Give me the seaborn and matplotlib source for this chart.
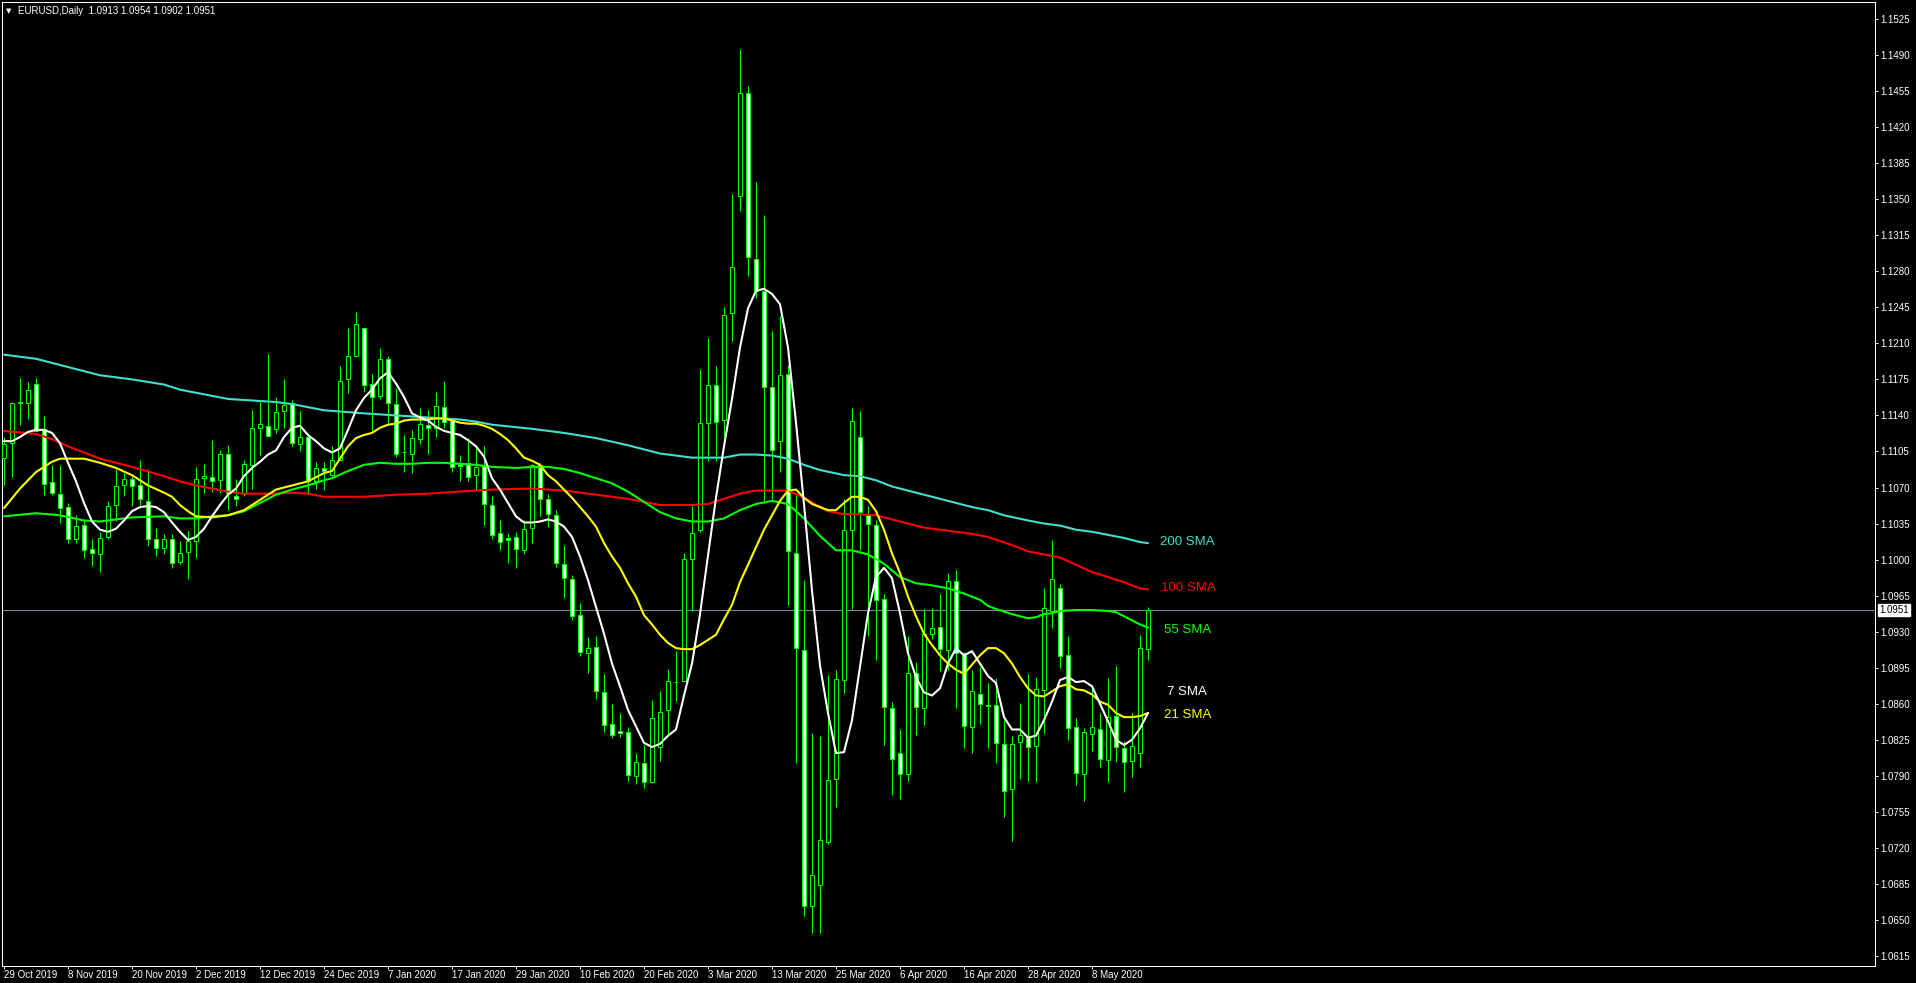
import numpy as np
import pandas as pd
import matplotlib
matplotlib.use('Agg')
import matplotlib.pyplot as plt
import seaborn as sns

# daily EURUSD candles, 29 Oct 2019 .. 19 May 2020 (one row per trading day)
opens = [1.1099, 1.1113, 1.1152, 1.1152, 1.1171, 1.1127, 1.1075, 1.1064, 1.1051, 1.1020,
         1.1034, 1.1010, 1.1005, 1.1022, 1.1053, 1.1072, 1.1078, 1.1072, 1.1057, 1.1020,
         1.1011, 1.1020, 1.0998, 1.1007, 1.1018, 1.1079, 1.1080, 1.1077, 1.1103, 1.1062,
         1.1064, 1.1092, 1.1128, 1.1130, 1.1127, 1.1144, 1.1152, 1.1112, 1.1119, 1.1076,
         1.1089, 1.1082, 1.1097, 1.1175, 1.1198, 1.1225, 1.1171, 1.1159, 1.1195, 1.1151,
         1.1104, 1.1103, 1.1117, 1.1131, 1.1128, 1.1148, 1.1135, 1.1093, 1.1094, 1.1082,
         1.1092, 1.1053, 1.1026, 1.1021, 1.1022, 1.1009, 1.1031, 1.1092, 1.1059, 1.1043,
         1.0996, 1.0981, 1.0946, 1.0909, 1.0915, 1.0871, 1.0840, 1.0834, 1.0833, 1.0790,
         1.0802, 1.0784, 1.0818, 1.0854, 1.0881, 1.0882, 1.1001, 1.1029, 1.1133, 1.1170,
         1.1136, 1.1239, 1.1353, 1.1453, 1.1292, 1.1261, 1.1168, 1.1115, 1.1180, 1.1006,
         1.0912, 1.0664, 1.0684, 1.0726, 1.0787, 1.0883, 1.1029, 1.1119, 1.1043, 1.1034,
         1.0962, 1.0856, 1.0812, 1.0792, 1.0890, 1.0856, 1.0928, 1.0935, 1.0912, 1.0979,
         1.0909, 1.0837, 1.0869, 1.0859, 1.0859, 1.0821, 1.0777, 1.0823, 1.0827, 1.0819,
         1.0873, 1.0950, 1.0972, 1.0907, 1.0837, 1.0792, 1.0831, 1.0835, 1.0805, 1.0848,
         1.0817, 1.0804, 1.0812, 1.0913]
highs = [1.1119, 1.1153, 1.1176, 1.1172, 1.1176, 1.1139, 1.1092, 1.1092, 1.1055, 1.1043,
         1.1038, 1.1020, 1.1027, 1.1057, 1.1090, 1.1084, 1.1081, 1.1097, 1.1088, 1.1031,
         1.1025, 1.1025, 1.1018, 1.1028, 1.1090, 1.1093, 1.1116, 1.1106, 1.1111, 1.1078,
         1.1097, 1.1145, 1.1153, 1.1200, 1.1158, 1.1175, 1.1155, 1.1144, 1.1123, 1.1095,
         1.1095, 1.1110, 1.1188, 1.1225, 1.1240, 1.1225, 1.1180, 1.1205, 1.1198, 1.1167,
         1.1121, 1.1126, 1.1147, 1.1145, 1.1163, 1.1173, 1.1137, 1.1102, 1.1118, 1.1110,
         1.1110, 1.1062, 1.1038, 1.1026, 1.1027, 1.1038, 1.1093, 1.1094, 1.1064, 1.1048,
         1.1014, 1.0985, 1.0958, 1.0925, 1.0926, 1.0889, 1.0860, 1.0851, 1.0837, 1.0812,
         1.0820, 1.0864, 1.0872, 1.0894, 1.0911, 1.1006, 1.1052, 1.1185, 1.1215, 1.1188,
         1.1245, 1.1355, 1.1496, 1.1460, 1.1367, 1.1335, 1.1222, 1.1237, 1.1189, 1.1063,
         1.0980, 1.0832, 1.0829, 1.0888, 1.0893, 1.1059, 1.1147, 1.1144, 1.1052, 1.1038,
         1.0967, 1.0862, 1.0835, 1.0926, 1.0901, 1.0952, 1.0953, 1.0967, 1.0987, 1.0990,
         1.0910, 1.0893, 1.0896, 1.0880, 1.0885, 1.0844, 1.0829, 1.0861, 1.0889, 1.0886,
         1.0972, 1.1019, 1.0976, 1.0926, 1.0846, 1.0836, 1.0875, 1.0851, 1.0885, 1.0897,
         1.0824, 1.0851, 1.0927, 1.0954]
lows = [1.1072, 1.1080, 1.1131, 1.1137, 1.1125, 1.1063, 1.1063, 1.1036, 1.1016, 1.1016,
        1.1002, 1.0994, 1.0988, 1.1020, 1.1037, 1.1062, 1.1052, 1.1050, 1.1013, 1.1003,
        1.1005, 1.0992, 1.0996, 1.0981, 1.1002, 1.1065, 1.1066, 1.1065, 1.1048, 1.1052,
        1.1062, 1.1069, 1.1102, 1.1119, 1.1123, 1.1128, 1.1110, 1.1105, 1.1065, 1.1069,
        1.1068, 1.1081, 1.1097, 1.1162, 1.1197, 1.1163, 1.1124, 1.1156, 1.1132, 1.1100,
        1.1085, 1.1084, 1.1112, 1.1103, 1.1119, 1.1128, 1.1085, 1.1076, 1.1076, 1.1068,
        1.1034, 1.1020, 1.1009, 1.0997, 1.0992, 1.1005, 1.1016, 1.1042, 1.1032, 1.0993,
        1.0963, 1.0941, 1.0906, 1.0890, 1.0865, 1.0833, 1.0827, 1.0828, 1.0785, 1.0782,
        1.0778, 1.0783, 1.0804, 1.0829, 1.0863, 1.0881, 1.0950, 1.1027, 1.1096, 1.1096,
        1.1119, 1.1212, 1.1339, 1.1275, 1.1254, 1.1055, 1.1057, 1.1085, 1.0956, 1.0802,
        1.0654, 1.0637, 1.0637, 1.0724, 1.0760, 1.0870, 1.0952, 1.1009, 1.0926, 1.0902,
        1.0820, 1.0771, 1.0767, 1.0785, 1.0830, 1.0839, 1.0923, 1.0892, 1.0893, 1.0856,
        1.0817, 1.0812, 1.0840, 1.0817, 1.0802, 1.0750, 1.0727, 1.0787, 1.0785, 1.0784,
        1.0832, 1.0934, 1.0895, 1.0825, 1.0781, 1.0766, 1.0814, 1.0799, 1.0784, 1.0803,
        1.0774, 1.0789, 1.0799, 1.0902]
closes = [1.1112, 1.1152, 1.1153, 1.1165, 1.1125, 1.1073, 1.1065, 1.1050, 1.1020, 1.1033,
          1.1009, 1.1006, 1.1021, 1.1052, 1.1071, 1.1078, 1.1071, 1.1059, 1.1020, 1.1011,
          1.1020, 1.0997, 1.1006, 1.1018, 1.1078, 1.1081, 1.1076, 1.1103, 1.1065, 1.1059,
          1.1093, 1.1128, 1.1132, 1.1120, 1.1143, 1.1150, 1.1113, 1.1119, 1.1076, 1.1089,
          1.1086, 1.1097, 1.1173, 1.1198, 1.1229, 1.1170, 1.1158, 1.1195, 1.1152, 1.1103,
          1.1104, 1.1118, 1.1132, 1.1128, 1.1149, 1.1134, 1.1090, 1.1091, 1.1080, 1.1090,
          1.1054, 1.1024, 1.1017, 1.1019, 1.1010, 1.1030, 1.1092, 1.1059, 1.1044, 1.0997,
          1.0982, 1.0945, 1.0910, 1.0914, 1.0872, 1.0839, 1.0830, 1.0832, 1.0791, 1.0803,
          1.0784, 1.0846, 1.0852, 1.0882, 1.0881, 1.1001, 1.1026, 1.1133, 1.1170, 1.1134,
          1.1238, 1.1284, 1.1453, 1.1294, 1.1261, 1.1168, 1.1106, 1.1179, 1.1008, 1.0914,
          1.0664, 1.0694, 1.0728, 1.0786, 1.0884, 1.1029, 1.1135, 1.1046, 1.1035, 1.0961,
          1.0857, 1.0806, 1.0792, 1.0890, 1.0857, 1.0928, 1.0934, 1.0913, 1.0979, 1.0909,
          1.0838, 1.0872, 1.0860, 1.0858, 1.0822, 1.0775, 1.0821, 1.0830, 1.0818, 1.0874,
          1.0953, 1.0981, 1.0906, 1.0836, 1.0793, 1.0833, 1.0837, 1.0806, 1.0847, 1.0818,
          1.0803, 1.0819, 1.0914, 1.0951]

# time axis labels, one every 8 bars
date_ticks = [0, 8, 16, 24, 32, 40, 48, 56, 64, 72, 80, 88, 96, 104, 112, 120, 128, 136]
date_labels = ['29 Oct 2019', '8 Nov 2019', '20 Nov 2019', '2 Dec 2019', '12 Dec 2019',
               '24 Dec 2019', '7 Jan 2020', '17 Jan 2020', '29 Jan 2020', '10 Feb 2020',
               '20 Feb 2020', '3 Mar 2020', '13 Mar 2020', '25 Mar 2020', '6 Apr 2020',
               '16 Apr 2020', '28 Apr 2020', '8 May 2020']
price_ticks = [1.0615 + 0.0035 * k for k in range(27)]

# moving averages (bar index, value)
ma7_vals = [1.1115, 1.1115, 1.1119, 1.1124, 1.1126, 1.1126, 1.1123, 1.1113, 1.1094, 1.1076,
            1.1055, 1.1037, 1.1029, 1.1027, 1.1030, 1.1038, 1.1047, 1.1051, 1.1052, 1.1051,
            1.1046, 1.1036, 1.1027, 1.1019, 1.1022, 1.1030, 1.1042, 1.1053, 1.1063, 1.1069,
            1.1081, 1.1089, 1.1095, 1.1102, 1.1106, 1.1119, 1.1128, 1.1130, 1.1121, 1.1115,
            1.1108, 1.1104, 1.1108, 1.1126, 1.1145, 1.1157, 1.1165, 1.1176, 1.1182, 1.1171,
            1.1158, 1.1142, 1.1138, 1.1135, 1.1129, 1.1125, 1.1123, 1.1121, 1.1116, 1.1110,
            1.1100, 1.1079, 1.1068, 1.1055, 1.1042, 1.1036, 1.1036, 1.1037, 1.1039, 1.1037,
            1.1032, 1.1022, 1.1003, 1.0980, 1.0954, 1.0928, 1.0899, 1.0877, 1.0854, 1.0838,
            1.0822, 1.0818, 1.0821, 1.0829, 1.0835, 1.0868, 1.0899, 1.0947, 1.1004, 1.1060,
            1.1110, 1.1156, 1.1206, 1.1244, 1.1261, 1.1263, 1.1258, 1.1248, 1.1206, 1.1133,
            1.1054, 1.0970, 1.0897, 1.0851, 1.0812, 1.0813, 1.0844, 1.0896, 1.0948, 1.0983,
            1.0992, 1.0982, 1.0948, 1.0909, 1.0886, 1.0871, 1.0868, 1.0875, 1.0899, 1.0914,
            1.0907, 1.0911, 1.0899, 1.0887, 1.0880, 1.0847, 1.0835, 1.0835, 1.0827, 1.0829,
            1.0844, 1.0862, 1.0883, 1.0886, 1.0881, 1.0882, 1.0877, 1.0860, 1.0843, 1.0825,
            1.0820, 1.0825, 1.0836, 1.0851]
ma7_bars = list(range(len(ma7_vals)))

ma21_bars = [0, 2, 4, 6, 7, 10, 12, 14, 16, 18, 20, 21, 22, 23, 24, 26, 28, 30, 32, 34, 36, 38, 40] + list(range(41, 144))
ma21_vals = [1.1050, 1.1069, 1.1085, 1.1095, 1.1098, 1.1098, 1.1094, 1.1089, 1.1082, 1.1072,
             1.1065, 1.1061, 1.1053, 1.1047, 1.1042, 1.1041, 1.1043, 1.1048, 1.1058, 1.1068,
             1.1072, 1.1076, 1.1084,
             1.1086, 1.1098, 1.1110, 1.1118, 1.1121, 1.1123, 1.1128, 1.1131, 1.1132, 1.1135,
             1.1136, 1.1136, 1.1136, 1.1137, 1.1137, 1.1135, 1.1133, 1.1132, 1.1132, 1.1130,
             1.1127, 1.1122, 1.1116, 1.1108, 1.1099, 1.1096, 1.1092, 1.1082, 1.1076, 1.1068,
             1.1060, 1.1051, 1.1042, 1.1032, 1.1016, 1.1003, 1.0992, 1.0977, 1.0964, 1.0946,
             1.0937, 1.0927, 1.0919, 1.0914, 1.0913, 1.0913, 1.0917, 1.0922, 1.0927, 1.0942,
             1.0956, 1.0978, 1.0995, 1.1012, 1.1029, 1.1043, 1.1057, 1.1067, 1.1068, 1.1060,
             1.1054, 1.1051, 1.1048, 1.1048, 1.1055, 1.1061, 1.1061, 1.1058, 1.1047, 1.1029,
             1.1006, 1.0987, 1.0964, 1.0945, 1.0928, 1.0917, 1.0907, 1.0899, 1.0893, 1.0889,
             1.0898, 1.0907, 1.0914, 1.0914, 1.0909, 1.0899, 1.0886, 1.0875, 1.0868, 1.0867,
             1.0872, 1.0877, 1.0879, 1.0874, 1.0873, 1.0869, 1.0862, 1.0859, 1.0851, 1.0847,
             1.0847, 1.0848, 1.0851]

ma55_bars = [0, 4, 7, 10, 12, 16, 20, 22, 24, 26, 28, 30, 32, 34, 36, 38, 40, 41, 43, 45, 47,
             49, 51, 53, 55, 57, 59, 61, 64, 66, 68, 70, 72, 74, 76, 78, 80, 82, 84, 86, 88,
             90, 92, 94, 96, 98, 100, 102, 103, 104, 106, 108, 110, 112, 114, 116, 118, 120,
             122, 123, 124, 126, 128, 129, 130, 131, 132, 134, 136, 138, 139, 140, 141, 142, 143]
ma55_vals = [1.1042, 1.1045, 1.1043, 1.1038, 1.1037, 1.1041, 1.1042, 1.1040, 1.1040, 1.1042,
             1.1043, 1.1047, 1.1055, 1.1063, 1.1068, 1.1072, 1.1077, 1.1079, 1.1086, 1.1092,
             1.1094, 1.1093, 1.1093, 1.1094, 1.1094, 1.1093, 1.1092, 1.1090, 1.1089, 1.1090,
             1.1090, 1.1088, 1.1084, 1.1079, 1.1074, 1.1066, 1.1056, 1.1046, 1.1040, 1.1037,
             1.1037, 1.1040, 1.1048, 1.1054, 1.1057, 1.1054, 1.1040, 1.1023, 1.1016, 1.1009,
             1.1009, 1.1005, 1.0996, 1.0983, 1.0977, 1.0975, 1.0972, 1.0967, 1.0961, 1.0955,
             1.0952, 1.0947, 1.0943, 1.0944, 1.0947, 1.0948, 1.0950, 1.0951, 1.0951, 1.0950,
             1.0949, 1.0945, 1.0941, 1.0937, 1.0934]

ma100_bars = [0, 4, 6, 8, 12, 16, 20, 22, 24, 26, 28, 30, 34, 36, 38, 40, 45, 49, 53, 57, 59,
              61, 66, 70, 74, 78, 82, 86, 88, 90, 92, 94, 96, 98, 100, 102, 103, 105, 107, 109,
              111, 113, 115, 117, 119, 121, 123, 126, 128, 130, 132, 134, 136, 138, 140, 142, 143]
ma100_vals = [1.1125, 1.1122, 1.1117, 1.1110, 1.1098, 1.1090, 1.1081, 1.1076, 1.1072, 1.1069,
              1.1066, 1.1064, 1.1064, 1.1065, 1.1064, 1.1061, 1.1061, 1.1063, 1.1064, 1.1066,
              1.1067, 1.1068, 1.1069, 1.1067, 1.1063, 1.1059, 1.1053, 1.1053, 1.1054, 1.1059,
              1.1064, 1.1067, 1.1067, 1.1067, 1.1060, 1.1051, 1.1047, 1.1044, 1.1044, 1.1043,
              1.1039, 1.1035, 1.1031, 1.1029, 1.1027, 1.1025, 1.1022, 1.1014, 1.1008, 1.1005,
              1.1002, 1.0995, 1.0988, 1.0983, 1.0978, 1.0972, 1.0971]

ma200_bars = [0, 4, 8, 12, 16, 20, 22, 24, 26, 28, 30, 32, 34, 36, 38, 40, 45, 49, 53, 57, 59,
              61, 66, 70, 74, 78, 82, 86, 90, 92, 94, 96, 98, 100, 102, 105, 107, 109, 111, 113,
              115, 117, 119, 121, 123, 125, 128, 130, 132, 134, 136, 138, 140, 142, 143]
ma200_vals = [1.1199, 1.1195, 1.1187, 1.1179, 1.1175, 1.1170, 1.1165, 1.1162, 1.1159, 1.1156,
              1.1155, 1.1154, 1.1153, 1.1151, 1.1148, 1.1145, 1.1142, 1.1140, 1.1138, 1.1136,
              1.1134, 1.1131, 1.1127, 1.1123, 1.1118, 1.1111, 1.1103, 1.1099, 1.1099, 1.1102,
              1.1102, 1.1101, 1.1098, 1.1092, 1.1087, 1.1082, 1.1081, 1.1077, 1.1071, 1.1067,
              1.1063, 1.1059, 1.1055, 1.1051, 1.1048, 1.1043, 1.1038, 1.1035, 1.1033, 1.1029,
              1.1027, 1.1024, 1.1021, 1.1017, 1.1016]

BULL = '#00ff00'
sns.set_theme(style='dark')
plt.rcParams['font.family'] = ['Liberation Sans', 'DejaVu Sans']

fig = plt.figure(figsize=(19.16, 9.83), dpi=100, facecolor='black')
ax = fig.add_axes([2 / 1916, 1 - 966 / 983, 1873 / 1916, 964 / 983])
ax.set_facecolor('black')

o = np.array(opens)
h = np.array(highs)
l = np.array(lows)
c = np.array(closes)
x = np.arange(len(o))
up = c >= o

# bid line
ax.axhline(closes[-1], color='#778899', lw=0.8, zorder=1)

# candles: wicks first, bodies on top (bull = black body, bear = white body)
ax.vlines(x, l, h, colors=BULL, lw=0.75, zorder=2)
ax.bar(x[up], (c - o)[up], bottom=o[up], width=0.55, color='black', edgecolor=BULL,
       linewidth=0.75, zorder=3)
ax.bar(x[~up], (o - c)[~up], bottom=c[~up], width=0.55, color='white', edgecolor=BULL,
       linewidth=0.75, zorder=3)

ma_list = [
    (ma200_bars, ma200_vals, '#40e0d0', '200 SMA', (12, 1)),
    (ma100_bars, ma100_vals, '#ff0000', '100 SMA', (13, 1)),
    (ma55_bars, ma55_vals, '#00ff00', '55 SMA', (16, -2)),
    (ma21_bars, ma21_vals, '#ffff00', '21 SMA', (16, -2)),
    (ma7_bars, ma7_vals, '#ffffff', '7 SMA', (19, 21)),
]
for bars, vals, col, name, off in ma_list:
    df = pd.DataFrame({'bar': bars, 'value': vals})
    sns.lineplot(data=df, x='bar', y='value', color=col, linewidth=1.5, estimator=None,
                 sort=False, ax=ax, zorder=4)
    ax.annotate(name, xy=(bars[-1], vals[-1]), xytext=off, textcoords='offset pixels',
                color=col, fontsize=9.5, va='center', ha='left')

ax.set_xlim(-0.25, 233.875)
ax.set_ylim(1.06053, 1.15415)

ax.yaxis.tick_right()
ax.set_yticks(price_ticks)
ax.set_yticklabels(['%.4f' % p for p in price_ticks])
ax.set_xticks(date_ticks)
ax.set_xticklabels(date_labels, ha='left')
ax.tick_params(axis='y', which='both', left=False, right=True, labelleft=False, labelright=True,
               direction='out', length=2.5, width=0.7, pad=1.5, colors='white', labelsize=7)
ax.tick_params(axis='x', direction='out', length=2.5, width=0.7, pad=0.5, colors='white',
               labelsize=7, bottom=True)
ax.set_xlabel('')
ax.set_ylabel('')
ax.grid(False)
for s in ax.spines.values():
    s.set_visible(True)
    s.set_color('white')
    s.set_linewidth(0.75)

# current price box on the price scale
ax.annotate('%.4f' % closes[-1], xy=(1.0, closes[-1]), xycoords=ax.get_yaxis_transform(),
            xytext=(4, 0), textcoords='offset pixels', color='black', fontsize=7,
            va='center', ha='left',
            bbox=dict(boxstyle='square,pad=0.15', facecolor='white', edgecolor='white'))

# chart caption top-left
fig.text(6 / 1916, 1 - 11 / 983, '\u25bc', color='white', fontsize=5, va='center',
         family='DejaVu Sans')
fig.text(18 / 1916, 1 - 11 / 983, 'EURUSD,Daily  %.4f %.4f %.4f %.4f' % (opens[-1], highs[-1], lows[-1], closes[-1]),
         color='white', fontsize=7, va='center')

plt.savefig('out.png', dpi=100, facecolor='black')
